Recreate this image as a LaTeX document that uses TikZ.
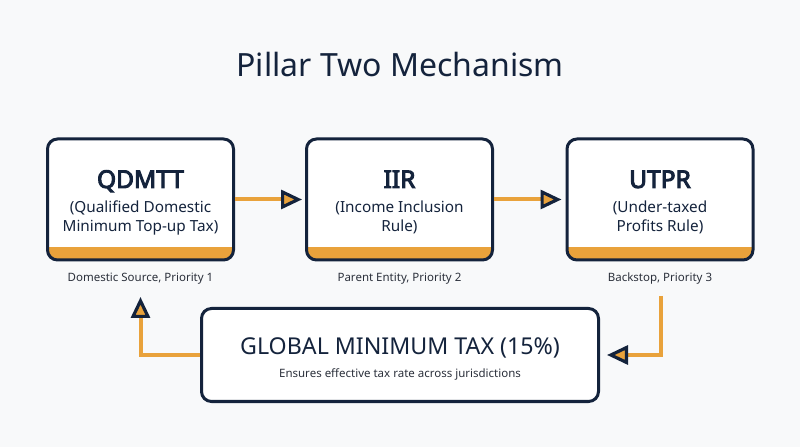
\documentclass[tikz,border=0pt]{standalone}
\usepackage{fontspec}
\setmainfont{Noto Sans}
\newfontfamily\heavyfam{Noto Sans}[FakeBold=4]
\usetikzlibrary{arrows.meta}
\definecolor{navy}{HTML}{14233C}
\definecolor{accent}{HTML}{E9A23B}
\definecolor{bgc}{HTML}{F8F9FA}
\definecolor{labelc}{HTML}{2B303B}
\tikzset{
  card/.style={draw=navy, line width=3pt, fill=white, rounded corners=10pt, inner sep=0pt,
    minimum width=186pt, minimum height=121pt,
    path picture={\fill[accent, sharp corners] (path picture bounding box.south west) rectangle ([yshift=13pt]path picture bounding box.south east);}},
  basecard/.style={draw=navy, line width=3pt, fill=white, rounded corners=10pt, inner sep=0pt,
    minimum width=397pt, minimum height=93pt},
  cardtitle/.style={anchor=base, text=navy, font=\heavyfam\fontsize{24.5}{28}\selectfont},
  cardsub/.style={anchor=base, text=navy, font=\fontsize{15.3}{18}\selectfont},
  undertext/.style={anchor=base, text=labelc, font=\fontsize{11.5}{14}\selectfont},
  conn/.style={draw=accent, line width=4pt,
    -{Triangle[length=21pt,width=19pt,fill=accent,color=navy,line width=3.2pt]}},
}
\begin{document}
\begin{tikzpicture}[x=1pt,y=1pt]
\fill[bgc] (0,0) rectangle (800,447);
\useasboundingbox (0,0) rectangle (800,447);

\node[anchor=base, text=navy, font=\fontsize{32}{36}\selectfont] (title) at (400,370) {Pillar Two Mechanism};

\node[card] (b1) at (140.5,247.5) {};
\node[card] (b2) at (399.5,247.5) {};
\node[card] (b3) at (660,247.5) {};

\node[cardtitle] (t1) at (140.5,259) {QDMTT};
\node[cardsub] (s1a) at (140.5,234) {(Qualified Domestic};
\node[cardsub] (s1b) at (140.5,215) {Minimum Top-up Tax)};

\node[cardtitle] (t2) at (399.5,259) {IIR};
\node[cardsub] (s2a) at (399.5,234) {(Income Inclusion};
\node[cardsub] (s2b) at (399.5,215) {Rule)};

\node[cardtitle] (t3) at (660,259) {UTPR};
\node[cardsub] (s3a) at (660,234) {(Under-taxed};
\node[cardsub] (s3b) at (660,215) {Profits Rule)};

\node[undertext] (l1) at (140.5,165) {Domestic Source, Priority 1};
\node[undertext] (l2) at (399.5,165) {Parent Entity, Priority 2};
\node[undertext] (l3) at (660,165) {Backstop, Priority 3};

\node[basecard] (gmt) at (400,92) {};
\node[anchor=base, text=navy, font=\fontsize{23.2}{26}\selectfont] (gt) at (400,92) {GLOBAL MINIMUM TAX (15\%)};
\node[anchor=base, text=labelc, font=\fontsize{11.5}{14}\selectfont] (gs) at (400,70) {Ensures effective tax rate across jurisdictions};

\draw[conn, shorten >=3pt] (b1.east) -- (b2.west);
\draw[conn, shorten >=4pt] (b2.east) -- (b3.west);

\coordinate (c1) at (140.5,150);
\coordinate (c3) at (660.5,151);
\draw[conn] (gmt.west) -| (c1);
\draw[conn, shorten >=7pt] (c3) |- (gmt.east);
\end{tikzpicture}
\end{document}
